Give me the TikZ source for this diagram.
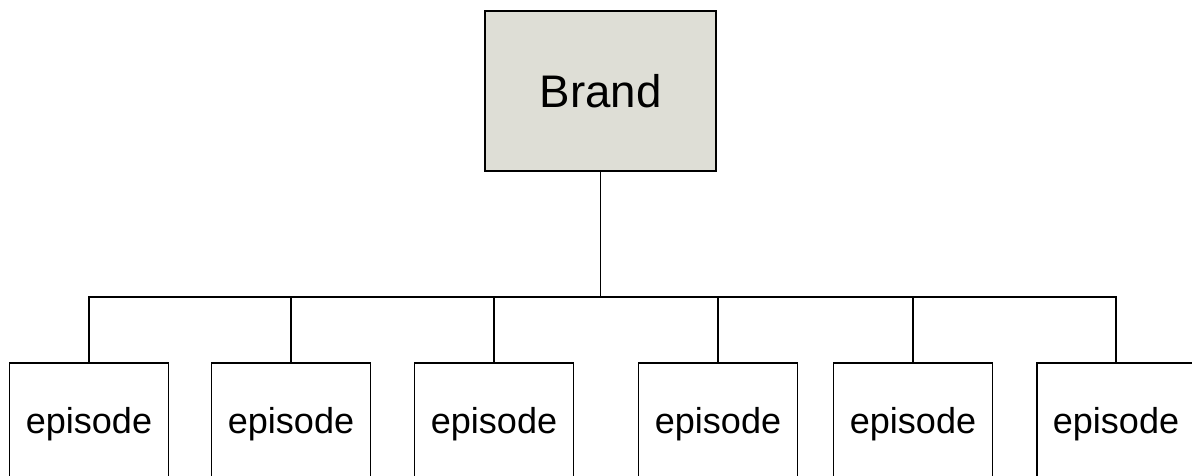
\documentclass[tikz,border=0pt]{standalone}
\usepackage{fontspec}
\setmainfont{Liberation Sans}
\definecolor{brandgray}{HTML}{DEDED6}
\tikzset{
	brandbox/.style={draw,fill=brandgray,minimum width=4.62cm,minimum height=3.2cm,inner sep=0pt,font=\fontsize{26}{30}\selectfont},
	epbox/.style={draw,minimum width=3.18cm,minimum height=2.44cm,inner sep=0pt,font=\fontsize{20.5}{24}\selectfont}
}
\begin{document}
\begin{tikzpicture}[x=0.02cm,y=-0.02cm,line width=1.1pt]
			\def\busy{297} \def\epy{424}
			\useasboundingbox (0,0) rectangle (1192,476);
			\clip (0,0) rectangle (1192,476);
			\node[brandbox] (brand) at (600.5,91) {Brand};
			\coordinate (bus) at (brand.south |- 0,\busy);
			%===========================================
			\foreach \i/\px in {1/89,2/291,3/494,4/718,5/913,6/1116}{
				\node[epbox] (ep\i) at (\px,\epy) {episode};
				\draw (ep\i.north) |- (bus);}
			\draw (brand.south) -- (bus);
	\end{tikzpicture}
\end{document}
